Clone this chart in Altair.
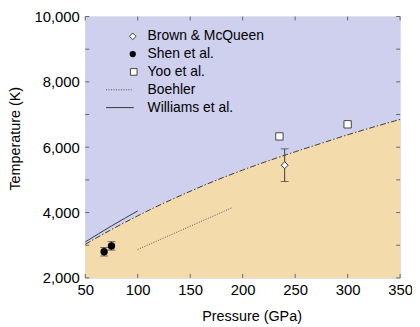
import altair as alt
import pandas as pd

# ---- data ----
boundary_p = [50, 75, 100, 125, 150, 175, 200, 225, 250, 275, 300, 325, 350]
boundary_t = [3030, 3480, 3900, 4290, 4650, 4990, 5300, 5590, 5860, 6120, 6380, 6620, 6850]

williams_p = [50, 75, 100]
williams_t = [3100, 3590, 4050]

boehler_p = [100, 190]
boehler_t = [2870, 4150]

shen_p = [68, 75]
shen_t = [2800, 2980]
shen_err = [130, 130]

yoo_p = [235, 300]
yoo_t = [6330, 6700]

bm_p = [240]
bm_t = [5450]
bm_err = [500]

x_ticks = [50, 100, 150, 200, 250, 300, 350]
y_ticks = [2000, 3000, 4000, 5000, 6000, 7000, 8000, 9000, 10000]
y_labels = [2000, 4000, 6000, 8000, 10000]

legend_names = ["Brown & McQueen", "Shen et al.", "Yoo et al.", "Boehler", "Williams et al."]

# ---- styling ----
W, H = 318, 264
FONT = "Liberation Sans"
BLUE = "#cfcfee"
TAN = "#f3dbab"
DARK = "#3a3a3a"
FRAME = "#666666"

xs = alt.Scale(domain=[50, 350], nice=False, zero=False)
ys = alt.Scale(domain=[2000, 10000], nice=False, zero=False)

x_axis = alt.Axis(title="Pressure (GPa)", values=x_ticks, ticks=False, domain=False, grid=False,
                  labelFlush=False,
                  labelFontSize=15, labelPadding=5, labelColor="black", labelFont=FONT,
                  titleFontSize=14.5, titleFont=FONT, titleColor="black", titleFontWeight="normal",
                  titlePadding=12, titleX=168)
y_axis = alt.Axis(title="Temperature (K)", values=y_labels, format=",d", ticks=False, domain=False,
                  grid=False, labelFlush=False,
                  labelFontSize=15, labelPadding=6, labelColor="black", labelFont=FONT,
                  titleFontSize=14.5, titleFont=FONT, titleColor="black", titleFontWeight="normal",
                  titlePadding=11, titleY=123)


def X(field):
    return alt.X(field, type="quantitative", scale=xs, axis=x_axis)


def Y(field):
    return alt.Y(field, type="quantitative", scale=ys, axis=y_axis)


bdf = pd.DataFrame({"p": boundary_p, "t": boundary_t})
wdf = pd.DataFrame({"p": williams_p, "t": williams_t})
bodf = pd.DataFrame({"p": boehler_p, "t": boehler_t})
sdf = pd.DataFrame({"p": shen_p, "t": shen_t, "e": shen_err})
sdf["lo"] = sdf["t"] - sdf["e"]
sdf["hi"] = sdf["t"] + sdf["e"]
ydf = pd.DataFrame({"p": yoo_p, "t": yoo_t})
mdf = pd.DataFrame({"p": bm_p, "t": bm_t, "e": bm_err})
mdf["lo"] = mdf["t"] - mdf["e"]
mdf["hi"] = mdf["t"] + mdf["e"]
xtdf = pd.DataFrame({"v": x_ticks})
ytdf = pd.DataFrame({"v": y_ticks})

blue = alt.Chart(bdf).mark_area(color=BLUE, interpolate="monotone").encode(
    x=X("p"), y=Y("t"), y2=alt.datum(10000))
tan = alt.Chart(bdf).mark_area(color=TAN, interpolate="monotone").encode(
    x=X("p"), y=Y("t"), y2=alt.datum(2000))
bline = alt.Chart(bdf).mark_line(color=DARK, strokeWidth=1, strokeDash=[6, 2, 1.5, 2],
                                 interpolate="monotone").encode(x=X("p"), y=Y("t"))
wline = alt.Chart(wdf).mark_line(color=DARK, strokeWidth=1, interpolate="monotone").encode(
    x=X("p"), y=Y("t"))
boline = alt.Chart(bodf).mark_line(color="#555555", strokeWidth=1, strokeDash=[1, 1.5]).encode(
    x=X("p"), y=Y("t"))

s_err = alt.Chart(sdf).mark_rule(color=DARK, strokeWidth=1).encode(x=X("p"), y=Y("lo"), y2="hi")
s_cap_lo = alt.Chart(sdf).mark_tick(color=DARK, orient="horizontal", size=8, thickness=1).encode(
    x=X("p"), y=Y("lo"))
s_cap_hi = alt.Chart(sdf).mark_tick(color=DARK, orient="horizontal", size=8, thickness=1).encode(
    x=X("p"), y=Y("hi"))
s_pts = alt.Chart(sdf).mark_point(shape="circle", filled=True, color="black", size=55, opacity=1).encode(
    x=X("p"), y=Y("t"))

m_err = alt.Chart(mdf).mark_rule(color=DARK, strokeWidth=1).encode(x=X("p"), y=Y("lo"), y2="hi")
m_cap_lo = alt.Chart(mdf).mark_tick(color=DARK, orient="horizontal", size=8, thickness=1).encode(
    x=X("p"), y=Y("lo"))
m_cap_hi = alt.Chart(mdf).mark_tick(color=DARK, orient="horizontal", size=8, thickness=1).encode(
    x=X("p"), y=Y("hi"))
m_pts = alt.Chart(mdf).mark_point(shape="diamond", fill="white", stroke=DARK, strokeWidth=1,
                                  size=50, opacity=1, fillOpacity=1).encode(x=X("p"), y=Y("t"))

y_pts = alt.Chart(ydf).mark_point(shape="square", fill="white", stroke="#444444", strokeWidth=1,
                                  size=55, opacity=1, fillOpacity=1).encode(x=X("p"), y=Y("t"))

# inward ticks on all four sides
tk_b = alt.Chart(xtdf).mark_rule(color=FRAME, strokeWidth=1).encode(
    x=X("v"), y=alt.value(H), y2=alt.value(H - 4))
tk_t = alt.Chart(xtdf).mark_rule(color=FRAME, strokeWidth=1).encode(
    x=X("v"), y=alt.value(0), y2=alt.value(4))
tk_l = alt.Chart(ytdf).mark_rule(color=FRAME, strokeWidth=1).encode(
    y=Y("v"), x=alt.value(0), x2=alt.value(4))
tk_r = alt.Chart(ytdf).mark_rule(color=FRAME, strokeWidth=1).encode(
    y=Y("v"), x=alt.value(W), x2=alt.value(W - 4))

# legend (inside the plot, upper left)
ldf = pd.DataFrame({"name": legend_names, "row": list(range(len(legend_names)))})
ROW0, DY = 20, 18
leg_text = alt.Chart(ldf).transform_calculate(ly=f"{ROW0} + datum.row * {DY}").mark_text(
    align="left", baseline="middle", font=FONT, fontSize=14, color="black").encode(
    x=alt.value(63), y=alt.Y("ly:Q", scale=None, axis=None), text="name:N")
leg_d = alt.Chart(ldf).transform_filter("datum.row == 0").transform_calculate(
    ly=f"{ROW0} + datum.row * {DY}").mark_point(
    shape="diamond", fill="white", stroke=DARK, strokeWidth=1, size=45, opacity=1, fillOpacity=1).encode(
    x=alt.value(48), y=alt.Y("ly:Q", scale=None, axis=None))
leg_c = alt.Chart(ldf).transform_filter("datum.row == 1").transform_calculate(
    ly=f"{ROW0} + datum.row * {DY}").mark_point(
    shape="circle", filled=True, color="black", size=40, opacity=1).encode(
    x=alt.value(48), y=alt.Y("ly:Q", scale=None, axis=None))
leg_s = alt.Chart(ldf).transform_filter("datum.row == 2").transform_calculate(
    ly=f"{ROW0} + datum.row * {DY}").mark_point(
    shape="square", fill="white", stroke="#444444", strokeWidth=1, size=45, opacity=1, fillOpacity=1).encode(
    x=alt.value(49), y=alt.Y("ly:Q", scale=None, axis=None))
leg_bo = alt.Chart(ldf).transform_filter("datum.row == 3").transform_calculate(
    ly=f"{ROW0} + datum.row * {DY}").mark_rule(color="#555555", strokeWidth=1, strokeDash=[1, 1.5]).encode(
    x=alt.value(21), x2=alt.value(47), y=alt.Y("ly:Q", scale=None, axis=None))
leg_w = alt.Chart(ldf).transform_filter("datum.row == 4").transform_calculate(
    ly=f"{ROW0} + datum.row * {DY}").mark_rule(color=DARK, strokeWidth=1).encode(
    x=alt.value(21), x2=alt.value(49), y=alt.Y("ly:Q", scale=None, axis=None))

chart = alt.layer(
    blue, tan, bline, wline, boline,
    s_err, s_cap_lo, s_cap_hi, s_pts,
    m_err, m_cap_lo, m_cap_hi, m_pts,
    y_pts,
    tk_b, tk_t, tk_l, tk_r,
    leg_text, leg_d, leg_c, leg_s, leg_bo, leg_w,
).properties(
    width=W, height=H,
    autosize=alt.AutoSizeParams(type="none"),
    padding={"left": 78, "top": 7, "right": 12, "bottom": 48},
).configure_view(
    stroke=FRAME, strokeWidth=1
).configure(
    background="white", font=FONT
)

chart.save("out.html", embed_options={"renderer": "svg", "actions": False})
